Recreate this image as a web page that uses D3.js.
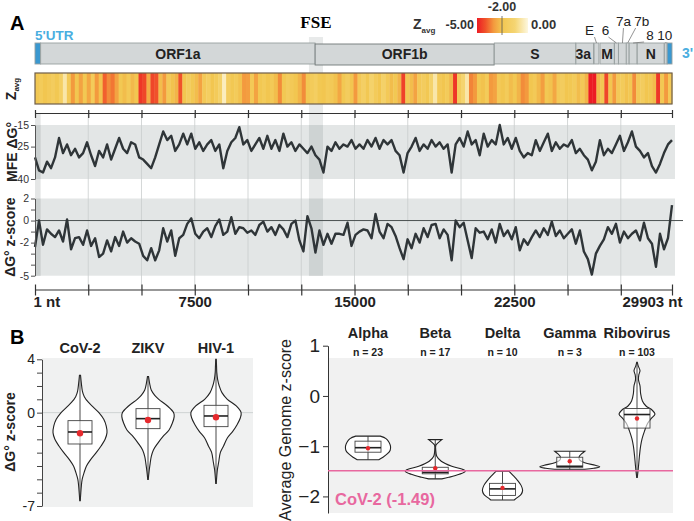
<!DOCTYPE html>
<html><head><meta charset="utf-8">
<script src="https://cdn.jsdelivr.net/npm/d3@7"></script>
<style>
body{margin:0;background:#fff}
svg{display:block}
text{font-family:"Liberation Sans",Arial,Helvetica,sans-serif}
</style>
</head><body>
<svg id="c" width="694" height="521"></svg>
<script>
// ---------------- DATA ----------------
const genomeLength = 29903;
const geneNames  = ["5'UTR","ORF1a","ORF1b","S","3a","E","M","6","7a","7b","8","N","10","3'UTR"];
const geneStarts = [1,266,13150,21563,25393,26245,26523,27202,27394,27756,27894,28274,29558,29675];
const geneEnds   = [265,13150,21555,25384,26220,26472,27191,27387,27759,27887,28259,29533,29674,29903];
const fseRange = [12860, 13520];
const ntTicks = [1,2500,5000,7500,10000,12500,15000,17500,20000,22500,25000,27500,29903];
const ntTickLabels = ["1 nt","","","7500","","","15000","","","22500","","","29903 nt"];

const zAvg = [-1.9,-1.7,-2.0,-1.8,-1.6,-1.9,-1.4,-0.5,-1.8,-3.0,-2.0,-2.8,-1.9,-2.7,-1.7,-3.0,-2.1,-3.8,-3.2,-3.5,
-2.8,-1.9,-2.2,-1.8,-2.3,-2.0,-4.5,-4.2,-2.6,-4.2,-4.0,-2.2,-3.0,-1.8,-2.1,-2.4,-4.0,-2.0,-1.6,-1.9,
-2.2,-2.8,-1.8,-1.5,-2.0,-1.7,-1.2,-0.3,-1.6,-1.9,-1.7,-2.1,-3.0,-2.9,-1.8,-2.8,-1.9,-1.7,-2.0,-1.8,
-2.2,-3.2,-1.9,-1.6,-1.8,-2.0,-2.4,-3.2,-1.9,-1.7,-1.5,-1.9,-2.0,-1.7,-1.8,-2.1,-2.7,-1.9,-1.6,-2.0,
-3.0,-1.8,-1.4,-1.9,-1.2,-1.7,-2.0,-1.3,-1.8,-2.2,-1.9,-2.4,-4.3,-1.9,-2.2,-2.8,-1.8,-1.6,-1.9,-1.2,
-0.5,-1.8,-2.0,-1.7,-2.3,-4.5,-1.6,-1.1,-0.5,-3.3,-3.0,-1.9,-2.1,-1.7,-3.0,-2.8,-1.8,-2.0,-1.7,-2.2,
-1.9,-2.4,-3.2,-3.0,-2.0,-1.8,-2.3,-2.9,-1.9,-2.1,-2.7,-1.8,-1.6,-2.0,-1.9,-1.7,-2.2,-1.8,-2.4,-5.0,
-5.0,-2.3,-1.9,-4.2,-2.0,-3.0,-1.8,-1.7,-2.1,-1.9,-3.2,-1.8,-1.6,-2.0,-1.9,-2.2,-4.5,-1.9,-3.0,-1.8];

const mfe = [-30,-36,-37,-32,-35,-30,-21,-28,-24,-29,-26,-30,-28,-23,-29,-34,-27,-30,-24,-31,
-26,-21,-26,-28,-23,-24,-30,-31,-33,-35,-30,-24,-18,-22,-20,-27,-24,-19,-24,-19,
-26,-23,-27,-24,-22,-27,-24,-35,-27,-23,-21,-16,-24,-22,-27,-24,-21,-26,-20,-26,
-22,-27,-19,-25,-23,-27,-24,-26,-28,-25,-29,-31,-37,-25,-27,-23,-26,-24,-25,-22,
-26,-24,-26,-22,-25,-21,-26,-22,-24,-22,-27,-29,-37,-28,-25,-21,-27,-24,-26,-22,
-25,-23,-26,-24,-37,-24,-21,-25,-18,-24,-22,-29,-19,-25,-22,-24,-15,-24,-21,-26,
-21,-27,-30,-28,-29,-22,-27,-23,-19,-27,-23,-26,-24,-25,-22,-28,-26,-29,-31,-36,
-32,-22,-29,-26,-28,-24,-20,-27,-23,-18,-25,-27,-30,-28,-34,-37,-33,-28,-24,-22];

const zScore = [-2.4,0.0,-2.2,-0.8,-1.2,-1.5,-0.9,-1.9,0.1,-2.6,-1.6,-1.5,-2.2,-0.9,-2.3,-1.6,-3.3,-3.0,-1.8,-2.8,
-1.5,-2.3,-1.0,-2.0,-1.6,-1.9,-2.1,-3.2,-3.6,-2.5,-3.6,-2.7,-0.7,-1.9,-0.9,-3.2,-1.6,-1.3,-0.3,0.2,
-1.2,-1.6,-1.0,-0.7,-1.5,-0.5,0.1,-1.3,-1.0,0.3,-1.2,-0.6,-0.7,-1.1,-0.9,-1.3,-0.4,-0.1,-1.0,-0.6,
-1.3,-0.4,-0.8,-1.5,-0.3,0.0,-1.8,-2.8,0.4,-0.7,-2.9,-0.9,-2.2,-1.2,-2.1,-1.2,-1.2,-1.3,-0.2,-2.3,
-1.3,-1.0,-0.8,-0.9,-1.6,0.6,-1.0,-1.6,-0.3,-0.6,-1.4,-2.5,-3.5,-1.7,-2.5,-1.2,-2.0,-0.7,-1.5,-0.4,
-0.3,-1.6,-0.8,-1.3,-3.6,0.0,-0.6,-0.2,-1.8,-3.4,-0.7,-1.1,-1.0,-1.7,-0.8,-2.0,-0.3,-1.4,-0.9,-1.7,
-0.6,-2.7,-1.7,-2.2,-1.5,-0.9,-1.5,-0.7,-1.3,-0.1,-1.4,-0.9,-1.6,-1.2,-0.8,-2.1,-0.9,-2.8,-3.5,-4.9,
-3.0,-2.3,-1.7,-0.6,-1.2,-0.3,-2.0,-1.0,-1.6,-1.2,-0.9,-1.8,-0.2,-1.6,-2.1,-4.2,-1.2,-2.6,-1.6,1.4];

// Panel B left: violins of window z-scores
const virusCats = ["CoV-2","ZIKV","HIV-1"];
const covProfile  = [[2.8,0.02],[2.2,0.05],[1.6,0.09],[1.2,0.16],[0.8,0.3],[0.4,0.5],[0,0.7],[-0.5,0.88],[-1.0,0.97],[-1.5,1.0],[-2.0,0.93],[-2.5,0.78],[-3.0,0.6],[-3.5,0.4],[-4.0,0.24],[-4.5,0.15],[-5.0,0.08],[-5.5,0.05],[-6.0,0.03],[-6.6,0.01]];
const zikvProfile = [[2.7,0.02],[2.2,0.06],[1.7,0.12],[1.3,0.25],[1.0,0.4],[0.5,0.72],[0,0.95],[-0.3,0.97],[-0.8,0.9],[-1.3,0.78],[-1.8,0.55],[-2.3,0.36],[-2.8,0.2],[-3.3,0.12],[-3.8,0.08],[-4.4,0.04],[-5.0,0.01]];
const hivProfile  = [[4.0,0.01],[3.5,0.02],[3.0,0.03],[2.5,0.06],[2.0,0.12],[1.5,0.22],[1.0,0.42],[0.5,0.75],[0,0.93],[-0.4,0.9],[-0.9,0.78],[-1.4,0.62],[-1.9,0.42],[-2.5,0.28],[-3.0,0.16],[-3.7,0.1],[-4.3,0.05],[-5.3,0.01]];
const virusQ3 = [-0.6, 0.3, 0.55];
const virusMedian = [-1.45, -0.45, -0.25];
const virusQ1 = [-2.35, -1.2, -1.05];
const virusMean = [-1.55, -0.55, -0.35];

// Panel B right: average genome z-scores
const groupCats = ["Alpha","Beta","Delta","Gamma","Ribovirus"];
const groupN = [23,17,10,3,103];
const alphaProfile = [[-0.80,0.41],[-0.85,0.6],[-0.92,0.7],[-1.0,0.75],[-1.08,0.74],[-1.15,0.65],[-1.22,0.5],[-1.27,0.36]];
const betaProfile  = [[-0.87,0.22],[-0.93,0.1],[-0.98,0.02],[-1.1,0.02],[-1.2,0.05],[-1.3,0.2],[-1.4,0.55],[-1.47,0.95],[-1.5,1.0],[-1.56,0.8],[-1.62,0.45],[-1.65,0.22]];
const deltaProfile = [[-1.5,0.22],[-1.58,0.35],[-1.68,0.5],[-1.78,0.62],[-1.88,0.67],[-1.96,0.62],[-2.02,0.5],[-2.07,0.39]];
const gammaProfile = [[-1.1,0.5],[-1.15,0.4],[-1.2,0.32],[-1.27,0.32],[-1.33,0.5],[-1.38,0.85],[-1.41,1.0],[-1.44,0.8],[-1.46,0.5]];
const riboProfile  = [[0.67,0.01],[0.6,0.04],[0.5,0.1],[0.42,0.06],[0.32,0.05],[0.2,0.1],[0.05,0.12],[-0.1,0.18],[-0.2,0.3],[-0.28,0.5],[-0.36,0.6],[-0.45,0.47],[-0.55,0.35],[-0.7,0.25],[-0.85,0.17],[-1.0,0.12],[-1.2,0.08],[-1.4,0.05],[-1.62,0.01]];
const groupQ3 = [-0.9, -1.42, -1.74, -1.22, -0.25];
const groupMedian = [-1.03, -1.52, -1.85, -1.4, -0.37];
const groupQ1 = [-1.12, -1.55, -1.98, -1.42, -0.64];
const groupMean = [-1.04, -1.44, -1.83, -1.3, -0.45];
const cov2Average = -1.49;

// ---------------- DRAW ----------------
const svg = d3.select("#c");
const DARK = "#2f3538";
const BLUE = "#4aaee0";
const PINK = "#e8689f";

// Panel A scales
const gx = d3.scaleLinear().domain([1, genomeLength]).range([35, 672]);
const mfeY = d3.scaleLinear().domain([-15, -40]).range([125, 179]);
const zY = d3.scaleLinear().domain([2, -5]).range([198.5, 275.7]);
const heatColor = d3.scaleLinear().domain([-5,-4,-3,-2,-1,0])
  .range(["#ec1c24","#f0522a","#f39a3e","#f2c650","#f5d572","#fdf7df"]).clamp(true);

svg.append("text").attr("x",10).attr("y",30).attr("font-size",20).attr("font-weight","bold").text("A");

// panel backgrounds
svg.append("rect").attr("x",gx(1)).attr("y",mfeY(-15)).attr("width",640).attr("height",mfeY(-40)-mfeY(-15)).attr("fill","#e3e6e6");
svg.append("rect").attr("x",gx(1)).attr("y",zY(2)).attr("width",640).attr("height",zY(-5)-zY(2)).attr("fill","#e3e6e6");

// grid lines
const gridTicks = ntTicks.slice(1, -1);
svg.append("g").selectAll("line").data(gridTicks).join("line")
  .attr("x1",d=>gx(d)).attr("x2",d=>gx(d)).attr("y1",113).attr("y2",289)
  .attr("stroke","#c9cdcd").attr("stroke-width",0.8);

// FSE and 5'UTR bands
svg.append("rect").attr("x",gx(fseRange[0])).attr("y",37).attr("width",gx(fseRange[1])-gx(fseRange[0])).attr("height",276-37)
  .attr("fill","#1f3030").attr("opacity",0.1);
svg.append("rect").attr("x",gx(geneStarts[0])).attr("y",113).attr("width",gx(geneEnds[0])-gx(geneStarts[0])).attr("height",276-113)
  .attr("fill","#1f3030").attr("opacity",0.12);

// FSE label
svg.append("text").attr("x",(gx(fseRange[0])+gx(fseRange[1]))/2).attr("y",28).attr("text-anchor","middle")
  .attr("font-family","'Liberation Serif','Times New Roman',serif").attr("style","font-family:'Liberation Serif','Times New Roman',serif")
  .attr("font-weight","bold").attr("font-size",17).text("FSE");

// genome bar
const genes = geneNames.map((n,i)=>({name:n,start:geneStarts[i],end:geneEnds[i]}));
const gBar = svg.append("g");
gBar.selectAll("rect").data(genes).join("rect")
  .attr("x",d=>gx(d.start)).attr("width",d=>Math.max(1,gx(d.end)-gx(d.start)))
  .attr("y",d=>d.name==="ORF1b"?44:43).attr("height",21)
  .attr("fill",d=>d.name.includes("UTR")?"#3a98d0":"#d3d7d8")
  .attr("stroke",d=>d.name==="ORF1b"?"#707878":"#98a0a0").attr("stroke-width",0.9);
const insideLabels = ["ORF1a","ORF1b","S","3a","M","N"];
gBar.selectAll("text.in").data(genes.filter(d=>insideLabels.includes(d.name))).join("text")
  .attr("class","in").attr("x",d=>(gx(d.start)+gx(d.end))/2 - (d.name==="3a"?1.5:0)).attr("y",58.5)
  .attr("text-anchor","middle").attr("font-size",14).attr("font-weight","bold").attr("fill","#222").text(d=>d.name);
svg.append("text").attr("x",gx(1)).attr("y",40).attr("font-size",13.5).attr("font-weight","bold").attr("fill",BLUE).text("5'UTR");
svg.append("text").attr("x",682).attr("y",58).attr("font-size",14).attr("font-weight","bold").attr("fill",BLUE).text("3'");

// callout labels for small genes
const calloutNames = ["E","6","7a","7b","8","10"];
const calloutDx = [-7,-11,1,14,17,-1];
const calloutTextY = [35,35,26,26,40,40];
const calloutLineDx = [-2,-8,1,8,11,0];
calloutNames.forEach((n,k)=>{
  const g = genes.find(d=>d.name===n);
  const mid = (gx(g.start)+gx(g.end))/2;
  const tx = mid + calloutDx[k];
  svg.append("text").attr("x",tx).attr("y",calloutTextY[k]).attr("text-anchor","middle")
    .attr("font-size",13.5).attr("fill","#222").text(n);
  svg.append("line").attr("x1",mid+calloutLineDx[k]).attr("y1",calloutTextY[k]+2).attr("x2",mid).attr("y2",43)
    .attr("stroke","#777").attr("stroke-width",0.8);
});

// Zavg legend
const legX = d3.scaleLinear().domain([-5,-2,0]).range([477,502,528]);
const defs = svg.append("defs");
const grad = defs.append("linearGradient").attr("id","zg").attr("x1","0%").attr("x2","100%");
d3.range(-5,0.01,0.25).forEach(v=>{
  grad.append("stop").attr("offset",((legX(v)-477)/51*100)+"%").attr("stop-color",heatColor(v));
});
svg.append("rect").attr("x",legX(-5)).attr("y",18).attr("width",legX(0)-legX(-5)).attr("height",15).attr("fill","url(#zg)");
svg.append("line").attr("x1",legX(-2)).attr("x2",legX(-2)).attr("y1",16).attr("y2",35).attr("stroke","#555").attr("stroke-width",0.8);
svg.append("text").attr("x",legX(-2)).attr("y",11).attr("text-anchor","middle").attr("font-size",12.5).attr("font-weight","bold").attr("fill","#333").text("-2.00");
svg.append("text").attr("x",legX(-5)-3).attr("y",29).attr("text-anchor","end").attr("font-size",12.5).attr("font-weight","bold").attr("fill","#333").text("-5.00");
svg.append("text").attr("x",legX(0)+3).attr("y",29).attr("font-size",13).attr("font-weight","bold").attr("fill","#333").text("0.00");
const zl = svg.append("text").attr("x",413).attr("y",29).attr("font-size",14).attr("font-weight","bold").attr("fill","#333");
zl.append("tspan").text("Z");
zl.append("tspan").attr("font-size",8).attr("dy",4).text("avg");

// heatmap
const winSize = genomeLength / zAvg.length;
svg.append("g").selectAll("rect").data(zAvg).join("rect")
  .attr("x",(d,i)=>gx(1+i*winSize)).attr("width",(d,i)=>gx(1+(i+1)*winSize)-gx(1+i*winSize)+0.4)
  .attr("y",73).attr("height",31).attr("fill",d=>heatColor(d));
svg.append("rect").attr("x",gx(1)).attr("y",73).attr("width",gx(genomeLength)-gx(1)).attr("height",31)
  .attr("fill","none").attr("stroke","#6e5e4a").attr("stroke-width",1.2);
const zt = svg.append("text").attr("transform","translate(16,89) rotate(-90)").attr("text-anchor","middle")
  .attr("font-size",14).attr("font-weight","bold").attr("fill","#222");
zt.append("tspan").text("Z");
zt.append("tspan").attr("font-size",8).attr("dy",3).text("avg");

// top axis
const topAx = svg.append("g").attr("transform","translate(0,113)")
  .call(d3.axisBottom(gx).tickValues(ntTicks).tickFormat("").tickSize(0).tickSizeOuter(0));
topAx.select(".domain").attr("stroke","#333").attr("stroke-width",1.2);
topAx.selectAll(".tick line").attr("y1",-3).attr("y2",5).attr("stroke","#333").attr("stroke-width",1.2);

// line data
const step = (genomeLength-1)/(mfe.length-1);
const line1 = d3.line().x((d,i)=>gx(1+i*step)).y(d=>mfeY(d));
const line2 = d3.line().x((d,i)=>gx(1+i*step)).y(d=>zY(d));

// zero line
svg.append("line").attr("x1",gx(1)).attr("x2",683).attr("y1",zY(0)).attr("y2",zY(0)).attr("stroke","#4a5050").attr("stroke-width",1);

svg.append("path").attr("d",line1(mfe)).attr("fill","none").attr("stroke",DARK).attr("stroke-width",2.4).attr("stroke-linejoin","round");
svg.append("path").attr("d",line2(zScore)).attr("fill","none").attr("stroke",DARK).attr("stroke-width",2.4).attr("stroke-linejoin","round");

// y axes panel A
const mAx = svg.append("g").attr("transform",`translate(${gx(1)},0)`)
  .call(d3.axisLeft(mfeY).tickValues([-15,-25,-40]).tickFormat(d=>String(d)).tickSize(4).tickSizeOuter(0).tickPadding(2));
mAx.selectAll("text").attr("font-size",10.5).attr("fill","#333");
mAx.selectAll("line,path").attr("stroke","#555");
const zAx = svg.append("g").attr("transform",`translate(${gx(1)},0)`)
  .call(d3.axisLeft(zY).tickValues([2,1,0,-1,-2,-3,-4,-5]).tickFormat(d=>[2,0,-2,-5].includes(d)?String(d):"").tickSize(4).tickSizeOuter(0).tickPadding(2));
zAx.selectAll("text").attr("font-size",10.5).attr("fill","#333");
zAx.selectAll("line,path").attr("stroke","#555");

svg.append("text").attr("transform",`translate(17,${(mfeY(-15)+mfeY(-40))/2}) rotate(-90)`).attr("text-anchor","middle")
  .attr("font-size",14).attr("font-weight","bold").attr("fill","#222").text("MFE ΔG°");
svg.append("text").attr("transform",`translate(15,${(zY(2)+zY(-5))/2}) rotate(-90)`).attr("text-anchor","middle")
  .attr("font-size",14).attr("font-weight","bold").attr("fill","#222").text("ΔG° z-score");

// bottom axis
const botAx = svg.append("g").attr("transform","translate(0,289.5)")
  .call(d3.axisBottom(gx).tickValues(ntTicks).tickFormat((d,i)=>ntTickLabels[i]).tickSize(0).tickSizeOuter(0).tickPadding(7));
botAx.select(".domain").attr("stroke","#333").attr("stroke-width",1.2);
botAx.selectAll(".tick line").attr("y1",-5).attr("y2",6).attr("stroke","#333").attr("stroke-width",1.2);
botAx.selectAll(".tick text").attr("font-size",15).attr("font-weight","bold").attr("fill","#222")
  .attr("text-anchor",(d,i)=>i===0?"start":(i===ntTicks.length-1?"end":"middle"))
  .attr("dx",(d,i)=>i===0?-2:(i===ntTicks.length-1?10:0));

// ---------- Panel B left ----------
svg.append("text").attr("x",10).attr("y",344).attr("font-size",20).attr("font-weight","bold").text("B");
const bY = d3.scaleLinear().domain([4,-7]).range([359.3,506]);
const bX = d3.scaleBand().domain(virusCats).range([46,250]);
svg.append("rect").attr("x",42).attr("y",358).attr("width",211).attr("height",149).attr("fill","#f0f1f1");
svg.append("line").attr("x1",42).attr("x2",253).attr("y1",bY(0)).attr("y2",bY(0)).attr("stroke","#cfd3d3").attr("stroke-width",1);
const bAx = svg.append("g").attr("transform","translate(42,0)")
  .call(d3.axisLeft(bY).tickValues(d3.range(4,-7.5,-1)).tickFormat(d=>[4,0,-7].includes(d)?String(d):"").tickSize(5).tickSizeOuter(0).tickPadding(2));
bAx.selectAll("text").attr("font-size",14).attr("fill","#222");
bAx.selectAll("line,path").attr("stroke","#444");
svg.append("text").attr("transform","translate(15,432) rotate(-90)").attr("text-anchor","middle")
  .attr("font-size",14).attr("font-weight","bold").attr("fill","#222").text("ΔG° z-score");
svg.selectAll("text.vcat").data(virusCats).join("text").attr("class","vcat")
  .attr("x",d=>bX(d)+bX.bandwidth()/2).attr("y",353).attr("text-anchor","middle")
  .attr("font-size",14.5).attr("font-weight","bold").attr("fill","#222").text(d=>d);

function drawViolins(profiles, cats, xs, ys, wScale, q3, med, q1, mean, boxHalf, dotR){
  profiles.forEach((p,i)=>{
    const cx = xs(cats[i]);
    const area = d3.area().curve(d3.curveCatmullRom.alpha(0.5))
      .y(d=>ys(d[0])).x0(d=>cx-wScale(d[1])).x1(d=>cx+wScale(d[1]));
    svg.append("path").attr("d",area(p)).attr("fill","#fff").attr("stroke","#222").attr("stroke-width",1.1);
    svg.append("line").attr("x1",cx).attr("x2",cx).attr("y1",ys(p[0][0])).attr("y2",ys(p[p.length-1][0]))
      .attr("stroke","#333").attr("stroke-width",0.9);
    svg.append("rect").attr("x",cx-boxHalf).attr("width",boxHalf*2).attr("y",ys(q3[i])).attr("height",ys(q1[i])-ys(q3[i]))
      .attr("fill","#fff").attr("fill-opacity",0.6).attr("stroke","#444").attr("stroke-width",0.9);
    svg.append("line").attr("x1",cx-boxHalf).attr("x2",cx+boxHalf).attr("y1",ys(med[i])).attr("y2",ys(med[i]))
      .attr("stroke","#222").attr("stroke-width",1.6);
    svg.append("circle").attr("cx",cx).attr("cy",ys(mean[i])).attr("r",dotR).attr("fill","#e62a2e");
  });
}
const bW = d3.scaleLinear().domain([0,1]).range([0,27]);
drawViolins([covProfile,zikvProfile,hivProfile], virusCats, d=>bX(d)+bX.bandwidth()/2, bY, bW,
  virusQ3, virusMedian, virusQ1, virusMean, 12, 3.2);

// ---------- Panel B right ----------
const rY = d3.scaleLinear().domain([1,-2.33]).range([345.7,513]);
const rX = d3.scalePoint().domain(groupCats).range([368,637]);
svg.append("rect").attr("x",328).attr("y",358).attr("width",345).attr("height",155).attr("fill","#f1f1f1");
const rAx = svg.append("g").attr("transform","translate(328,0)")
  .call(d3.axisLeft(rY).tickValues([1,0,-1,-2]).tickFormat(d3.format("d")).tickSize(5).tickSizeOuter(0).tickPadding(3));
rAx.selectAll("text").attr("font-size",19).attr("fill","#222");
rAx.selectAll("line,path").attr("stroke","#333");
svg.append("text").attr("transform","translate(291,430) rotate(-90)").attr("text-anchor","middle")
  .attr("font-size",16).attr("fill","#222").text("Average Genome z-score");
svg.selectAll("text.gcat").data(groupCats).join("text").attr("class","gcat")
  .attr("x",d=>rX(d)).attr("y",338).attr("text-anchor","middle")
  .attr("font-size",14.5).attr("font-weight","bold").attr("fill","#222").text(d=>d);
svg.selectAll("text.gn").data(groupCats).join("text").attr("class","gn")
  .attr("x",d=>rX(d)).attr("y",356).attr("text-anchor","middle")
  .attr("font-size",10.5).attr("font-weight","bold").attr("fill","#222").text((d,i)=>"n = "+groupN[i]);

const rW = d3.scaleLinear().domain([0,1]).range([0,30]);
drawViolins([alphaProfile,betaProfile,deltaProfile,gammaProfile,riboProfile], groupCats, d=>rX(d), rY, rW,
  groupQ3, groupMedian, groupQ1, groupMean, 13, 2.2);

svg.append("line").attr("x1",328).attr("x2",673).attr("y1",rY(cov2Average)).attr("y2",rY(cov2Average))
  .attr("stroke",PINK).attr("stroke-width",1.4);
svg.append("text").attr("x",335).attr("y",505).attr("font-size",16.5).attr("font-weight","bold").attr("fill",PINK)
  .text("CoV-2 (" + cov2Average.toFixed(2) + ")");
</script>
</body></html>
